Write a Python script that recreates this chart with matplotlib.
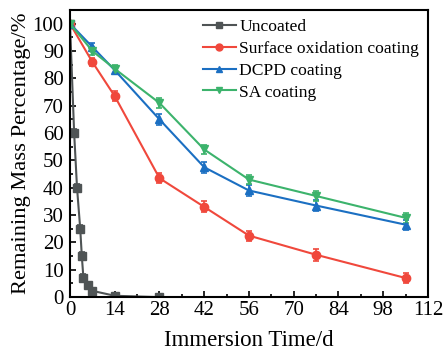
import numpy as np
import matplotlib
matplotlib.use("Agg")
import matplotlib.pyplot as plt
from matplotlib.ticker import MultipleLocator

plt.rcParams['font.family'] = ['Liberation Serif', 'DejaVu Serif']

# data
days_uncoated = [0, 1.3, 2.2, 3.2, 3.7, 4.2, 5.6, 7, 14, 28]
uncoated = [100, 60, 40, 25, 15, 7, 4.3, 2.3, 0.5, 0]
uncoated_err = [1, 1.5, 1.5, 1.5, 1.5, 1.5, 1.2, 1, 0.3, 0.3]

days = [0, 7, 14, 28, 42, 56, 77, 105]
oxidation = [100, 86, 73.5, 43.5, 33, 22.5, 15.5, 7]
oxidation_err = [0.5, 1.5, 1.8, 1.8, 2, 1.8, 2.2, 1.8]
dcpd = [100, 91.5, 83, 65, 47.5, 39, 33.5, 26.5]
dcpd_err = [0.5, 1.5, 1.5, 2, 2, 2, 2, 1.8]
sa = [100, 90, 83.5, 71, 54, 43, 37, 29]
sa_err = [0.5, 1.5, 1.5, 1.8, 1.8, 1.8, 1.8, 1.8]

fig = plt.figure(figsize=(4.43, 3.58), dpi=100)
ax = fig.add_axes([0.158, 0.170, 0.808, 0.802])

series = [
    (days_uncoated, uncoated, uncoated_err, '#4f5455', 's', 'Uncoated'),
    (days, oxidation, oxidation_err, '#f0483c', 'o', 'Surface oxidation coating'),
    (days, dcpd, dcpd_err, '#1b6fc2', '^', 'DCPD coating'),
    (days, sa, sa_err, '#3cb36c', 'v', 'SA coating'),
]
for x, y, e, c, m, lab in series:
    ax.errorbar(x, y, yerr=e, color=c, marker=m, lw=1.5, ms=6,
                capsize=2.5, elinewidth=1.2, capthick=1.2)
    # plain line handle for the legend (no error bar in legend)
    ax.plot([], [], color=c, marker=m, lw=1.5, ms=5, label=lab)

ax.set_xlim(0, 112)
ax.set_ylim(0, 105)
ax.xaxis.set_major_locator(MultipleLocator(14))
ax.xaxis.set_minor_locator(MultipleLocator(7))
ax.yaxis.set_major_locator(MultipleLocator(10))
ax.yaxis.set_minor_locator(MultipleLocator(5))
ax.tick_params(which='both', direction='in', labelsize=15, width=1.2)
ax.tick_params(which='major', length=4)
ax.tick_params(which='minor', length=2.5)
ax.tick_params(axis='x', which='major', pad=3)
ax.tick_params(axis='y', which='major', pad=4.5)
for s in ax.spines.values():
    s.set_linewidth(1.5)

ax.set_xlabel('Immersion Time/d', fontsize=16.5, labelpad=7)
ax.set_ylabel('Remaining Mass Percentage/%', fontsize=16.2, labelpad=1)

ax.legend(loc='upper right', frameon=False, fontsize=12.6, borderaxespad=0.1,
          handlelength=1.9, handletextpad=0.2, labelspacing=0.32)

fig.savefig('out.png', dpi=100)
